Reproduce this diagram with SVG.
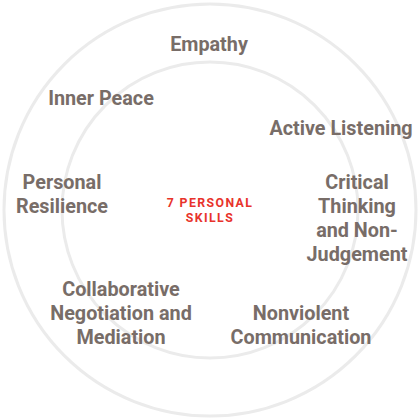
<svg xmlns="http://www.w3.org/2000/svg" width="420" height="420" viewBox="0 0 420 420">
<style>
.ring{fill:none;stroke:#ebebeb;stroke-width:3}
.lbl{font-family:Roboto,"Liberation Sans",sans-serif;font-weight:700;font-size:19.8px;fill:#786d68;text-anchor:middle}
.ctr{font-family:Roboto,"Liberation Sans",sans-serif;font-weight:700;font-size:12.3px;fill:#e8332b;text-anchor:middle;letter-spacing:1.4px}
</style>
<rect width="420" height="420" fill="#fff"/>
<g id="rings">
<circle class="ring" cx="210" cy="210" r="206"/>
<circle class="ring" cx="210" cy="210" r="148"/>
</g>
<g id="connectors"></g>
<g id="center"><text class="ctr" x="210" y="207">7 PERSONAL</text><text class="ctr" x="210" y="222">SKILLS</text></g>
<g id="empathy"><text class="lbl" x="209" y="51">Empathy</text></g>
<g id="inner-peace"><text class="lbl" x="101" y="105">Inner Peace</text></g>
<g id="active-listening"><text class="lbl" x="341" y="135">Active Listening</text></g>
<g id="personal-resilience"><text class="lbl" x="62" y="189">Personal</text><text class="lbl" x="62" y="213">Resilience</text></g>
<g id="critical-thinking"><text class="lbl" x="357" y="189">Critical</text><text class="lbl" x="357" y="213">Thinking</text><text class="lbl" x="357" y="237">and Non-</text><text class="lbl" x="357" y="261">Judgement</text></g>
<g id="collaborative"><text class="lbl" x="121" y="296">Collaborative</text><text class="lbl" x="121" y="320">Negotiation and</text><text class="lbl" x="121" y="344">Mediation</text></g>
<g id="nonviolent"><text class="lbl" x="301" y="320">Nonviolent</text><text class="lbl" x="301" y="344">Communication</text></g>
</svg>
